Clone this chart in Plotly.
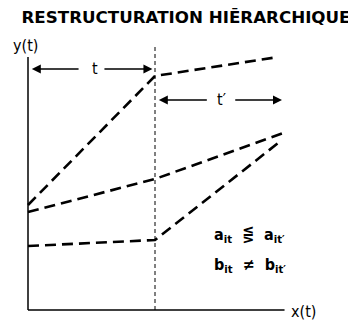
import plotly.graph_objects as go

# data (x in units of t, y in arbitrary units)
line1_x = [0, 1, 1.97]
line1_y = [1.05, 2.34, 2.53]
line2_x = [0, 1, 2.01]
line2_y = [0.98, 1.31, 1.77]
line3_x = [0, 1, 1.98]
line3_y = [0.64, 0.70, 1.68]

title = "RESTRUCTURATION HIĒRARCHIQUE"
font = "DejaVu Sans Condensed, DejaVu Sans, Liberation Sans Narrow"

fig = go.Figure()
for xs, ys in [(line1_x, line1_y), (line2_x, line2_y), (line3_x, line3_y)]:
    fig.add_trace(go.Scatter(x=xs, y=ys, mode="lines",
                             line=dict(color="black", width=2.6, dash="11px,6px"),
                             showlegend=False, hoverinfo="skip"))

shapes = [
    dict(type="line", x0=0, x1=0, y0=0, y1=2.53, line=dict(color="black", width=1.5)),
    dict(type="line", x0=0, x1=2.02, y0=0, y1=0, line=dict(color="black", width=1.5)),
    dict(type="line", x0=1, x1=1, y0=0, y1=2.65, line=dict(color="black", width=1, dash="4px,3px")),
]

ann = []
def arrow(x_head, x_tail, y):
    ann.append(dict(x=x_head, y=y, ax=x_tail, ay=y, xref="x", yref="y", axref="x", ayref="y",
                    showarrow=True, arrowhead=2, arrowsize=1.2, arrowwidth=1.5,
                    arrowcolor="black", text=""))

# t arrows
arrow(0.03, 0.41, 2.41)
arrow(0.98, 0.59, 2.41)
# t' arrows
arrow(1.03, 1.42, 2.10)
arrow(2.0, 1.62, 2.10)

def text(x, y, s, size=15, bold=False, xanchor="center", fam=font):
    ann.append(dict(x=x, y=y, xref="x", yref="y", text=s, showarrow=False,
                    xanchor=xanchor, yanchor="middle",
                    font=dict(family=fam, size=size, color="black",
                              weight="bold" if bold else "normal")))

text(0.53, 2.42, "t", 16)
text(1.52, 2.11, "t′", 16)
text(-0.02, 2.65, "y(t)", 16)
text(2.17, -0.01, "x(t)", 16)
text(1.45, 0.75, "a<sub>it</sub>  ⋚  a<sub>it′</sub>", 16, bold=True, xanchor="left")
text(1.45, 0.45, "b<sub>it</sub>  ≠  b<sub>it′</sub>", 16, bold=True, xanchor="left")

# the page body has an 8px margin, so the figure is drawn 8px in from the window edges
W, H = 348, 314
fig.update_layout(
    width=W, height=H,
    margin=dict(l=0, r=0, t=0, b=0),
    paper_bgcolor="white", plot_bgcolor="white",
    xaxis=dict(range=[-20/127, (W-20)/127], visible=False, fixedrange=True),
    yaxis=dict(range=[-(H-302)/100, 302/100], visible=False, fixedrange=True),
    shapes=shapes, annotations=ann,
    title=dict(text="<b>" + title + "</b>", x=(186-8)/W, xanchor="center", y=1-(17-8)/H, yanchor="middle",
               font=dict(family="DejaVu Sans", size=16.7, color="black")),
)
fig.write_html("out.html")
